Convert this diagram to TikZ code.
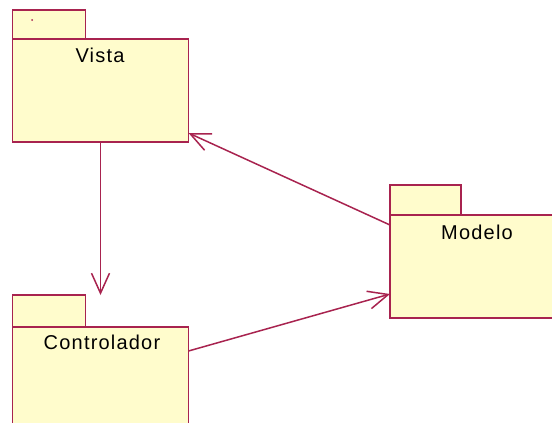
\documentclass[tikz,border=0pt]{standalone}
\usepackage{fontspec}
\setmainfont{Liberation Sans}
\usetikzlibrary{arrows.meta}
\definecolor{pkgred}{RGB}{168,35,79}
\definecolor{pkgfill}{RGB}{255,252,204}

\begin{document}
\begin{tikzpicture}[x=1pt,y=-1pt,
  pkg/.style={inner sep=0pt, outer sep=0pt},
  pkgline/.style={draw=pkgred, fill=pkgfill, line width=1.6pt},
  dep/.style={draw=pkgred, line width=1.5pt, -{Straight Barb[length=20pt,width=18pt]}},
  pkgname/.style={font=\fontsize{20}{22}\selectfont\addfontfeature{LetterSpace=6}}]
\useasboundingbox (0,0) rectangle (552,423);
\clip (0,0) rectangle (552,423);
% paquetes
\node[pkg, minimum width=176pt, minimum height=132pt] (vista) at (100.5,76) {};
\node[pkg, minimum width=175pt, minimum height=133pt] (modelo) at (477.5,251.5) {};
\node[pkg, minimum width=176pt, minimum height=145pt] (controlador) at (100.5,367.5) {};
\draw[pkgline] (vista.north west) rectangle ++(73,29);
\draw[pkgline] ([yshift=-29pt]vista.north west) rectangle (vista.south east);
\draw[pkgline] (modelo.north west) rectangle ++(71,30);
\draw[pkgline] ([yshift=-30pt]modelo.north west) rectangle (modelo.south east);
\draw[pkgline] (controlador.north west) rectangle ++(73,32);
\draw[pkgline] ([yshift=-32pt]controlador.north west) rectangle (controlador.south east);
\fill[pkgred] (32,20) circle (1pt);
% nombres
\node[pkgname] (vista-name) at (100,55) {Vista};
\node[pkgname] (modelo-name) at (477,232) {Modelo};
\node[pkgname] (controlador-name) at (102,342) {Controlador};
% dependencias
\draw[dep] (vista.south) -- (controlador.north);
\draw[dep] ([yshift=26.5pt]modelo.west) -- ([yshift=9pt]vista.south east);
\draw[dep] ([yshift=16.5pt]controlador.east) -- ([yshift=-42.5pt]modelo.west);
\end{tikzpicture}
\end{document}
